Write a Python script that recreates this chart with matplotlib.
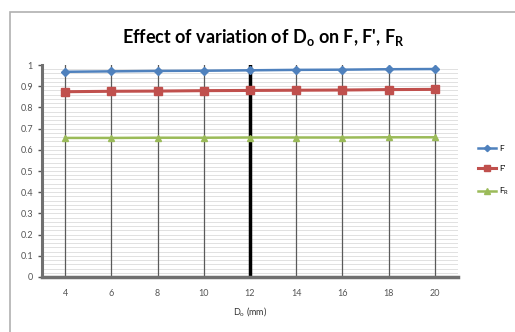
import matplotlib.pyplot as plt
import numpy as np
from matplotlib.patches import Rectangle

# data
do_mm = [4, 6, 8, 10, 12, 14, 16, 18, 20]
f_vals = [0.968, 0.970, 0.972, 0.973, 0.975, 0.977, 0.978, 0.980, 0.981]
fp_vals = [0.874, 0.876, 0.877, 0.879, 0.880, 0.881, 0.882, 0.884, 0.885]
fr_vals = [0.656, 0.656, 0.657, 0.657, 0.658, 0.658, 0.658, 0.659, 0.659]
y_ticks = [0, 0.1, 0.2, 0.3, 0.4, 0.5, 0.6, 0.7, 0.8, 0.9, 1]
y_labels = ['0', '0.1', '0.2', '0.3', '0.4', '0.5', '0.6', '0.7', '0.8', '0.9', '1']

plt.rcParams['font.family'] = ['Lato', 'DejaVu Sans']

fig = plt.figure(figsize=(5.15, 3.32), dpi=100)
W, H = 515, 332
# chart area border
fig.patches.append(Rectangle((10 / W, -0.1), 1.2, 1 - 12 / H + 0.1,
                             transform=fig.transFigure, fill=False,
                             edgecolor='#b0b0b0', linewidth=1.2))

ax = fig.add_axes([42 / W, 1 - 277 / H, (458 - 42) / W, (277 - 65) / H])
ax.set_xlim(3, 21)
ax.set_ylim(0, 1)

# faint horizontal lines
for yy in np.arange(0.02, 1.0, 0.02):
    ax.axhline(yy, color='#dcdcdc', linewidth=0.6, zorder=0)
# vertical gridlines at each category
for xx in do_mm:
    if xx == 12:
        ax.axvline(xx, color='black', linewidth=2.5, zorder=1)
    else:
        ax.axvline(xx, color='#5a5a5a', linewidth=0.9, zorder=1)

ax.plot(do_mm, f_vals, color='#4F81BD', marker='D', markersize=4, linewidth=1.8, label='F', zorder=3)
ax.plot(do_mm, fp_vals, color='#C0504D', marker='s', markersize=6, linewidth=2.2, label="F'", zorder=3)
ax.plot(do_mm, fr_vals, color='#9BBB59', marker='^', markersize=5, linewidth=1.8,
        label='F$\\mathregular{_R}$', zorder=3)

ax.set_xticks(do_mm)
ax.set_xticklabels([str(v) for v in do_mm])
ax.set_yticks(y_ticks)
ax.set_yticklabels(y_labels)
ax.tick_params(axis='both', labelsize=6.5, colors='#555555', length=3, width=1)
ax.tick_params(axis='x', length=0, pad=9)
for s in ['top', 'right']:
    ax.spines[s].set_visible(False)
ax.spines['left'].set_color('#707070')
ax.spines['left'].set_linewidth(2.2)
ax.spines['bottom'].set_color('#707070')
ax.spines['bottom'].set_linewidth(2.5)

ax.set_xlabel('D$\\mathregular{_o}$ (mm)', fontsize=6.5, color='#333333', labelpad=5)

fig.text(263 / W, 1 - 37 / H,
         "Effect of variation of D$\\mathregular{_o}$ on F, F', F$\\mathregular{_R}$",
         ha='center', va='center', fontsize=13, fontweight='bold')

ax.legend(loc='center left', bbox_to_anchor=(1.03, 0.5), frameon=False,
          fontsize=6, handlelength=2.2, labelspacing=1.6, handletextpad=0.3,
          markerscale=0.8)

fig.savefig('out.png', dpi=100)
